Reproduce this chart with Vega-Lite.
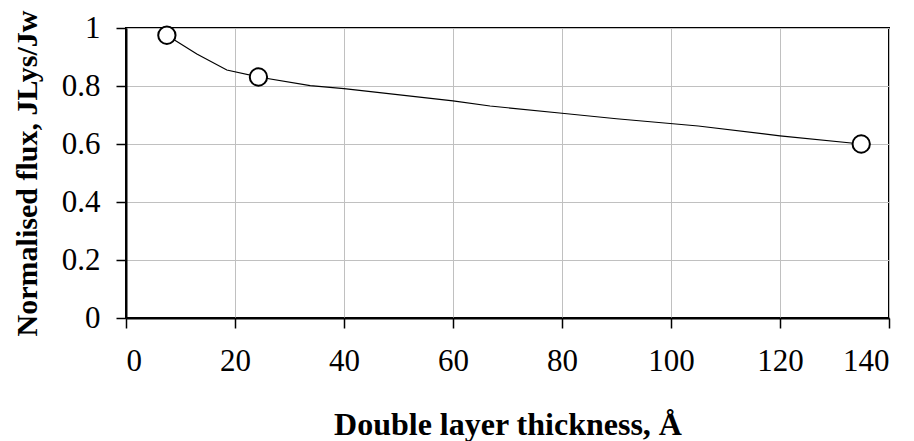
{
  "$schema": "https://vega.github.io/schema/vega-lite/v6.json",
  "width": 763,
  "height": 290,
  "autosize": {"type": "none"},
  "padding": {"left": 126, "top": 28, "right": 25, "bottom": 123},
  "background": "white",
  "config": {
    "view": {"stroke": "black", "strokeWidth": 2},
    "font": "Liberation Serif",
    "axis": {
      "labelFont": "Liberation Serif",
      "titleFont": "Liberation Serif",
      "labelFontSize": 31,
      "labelColor": "black",
      "titleColor": "black",
      "titleFontSize": 30,
      "titleFontWeight": "bold",
      "domainColor": "black",
      "domainWidth": 2,
      "tickColor": "black",
      "tickWidth": 1.5,
      "tickSize": 10,
      "gridColor": "#c0c0c0",
      "gridWidth": 1
    }
  },
  "datasets": {
    "curve": [
      {"thickness": 7.5, "flux": 0.975},
      {"thickness": 13, "flux": 0.91},
      {"thickness": 18.5, "flux": 0.855},
      {"thickness": 24.3, "flux": 0.831},
      {"thickness": 33.8, "flux": 0.801},
      {"thickness": 40, "flux": 0.791},
      {"thickness": 60, "flux": 0.749},
      {"thickness": 66.8, "flux": 0.731},
      {"thickness": 80, "flux": 0.706},
      {"thickness": 90, "flux": 0.687},
      {"thickness": 105, "flux": 0.662},
      {"thickness": 120, "flux": 0.628},
      {"thickness": 134.9, "flux": 0.6}
    ],
    "points": [
      {"thickness": 7.5, "flux": 0.975},
      {"thickness": 24.3, "flux": 0.831},
      {"thickness": 134.9, "flux": 0.6}
    ]
  },
  "layer": [
    {
      "data": {"name": "curve"},
      "mark": {"type": "line", "color": "black", "strokeWidth": 1.2},
      "encoding": {
        "x": {
          "field": "thickness",
          "type": "quantitative",
          "scale": {"domain": [0, 140], "nice": false},
          "axis": {
            "values": [0, 20, 40, 60, 80, 100, 120, 140],
            "title": "Double layer thickness, Å",
            "titleFontSize": 32,
            "labelPadding": 18,
            "titlePadding": 33
          }
        },
        "y": {
          "field": "flux",
          "type": "quantitative",
          "scale": {"domain": [0, 1], "nice": false},
          "axis": {
            "values": [0, 0.2, 0.4, 0.6, 0.8, 1],
            "format": "~g",
            "title": "Normalised flux, JLys/Jw",
            "labelPadding": 16,
            "titlePadding": 19
          }
        }
      }
    },
    {
      "data": {"name": "points"},
      "mark": {"type": "point", "shape": "circle", "filled": true, "fill": "white", "stroke": "black", "strokeWidth": 2, "size": 300, "opacity": 1},
      "encoding": {
        "x": {"field": "thickness", "type": "quantitative"},
        "y": {"field": "flux", "type": "quantitative"}
      }
    }
  ]
}
